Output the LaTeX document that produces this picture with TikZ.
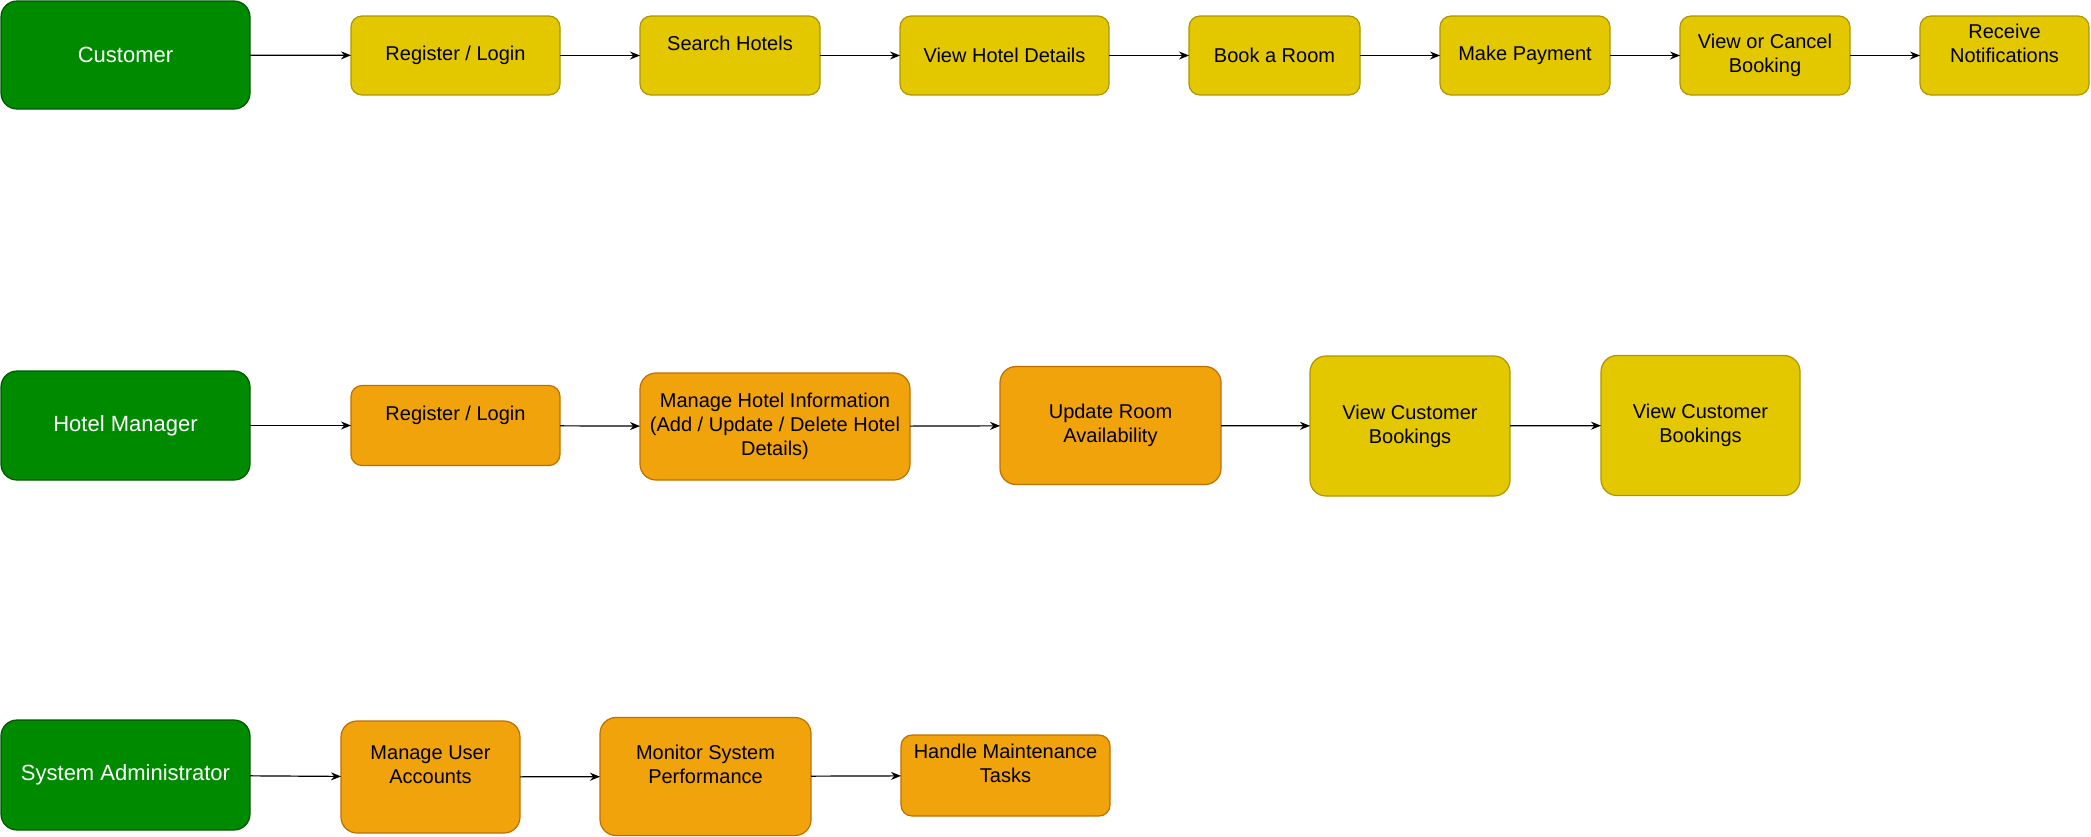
\documentclass[tikz,border=0pt]{standalone}
\usepackage{fontspec}
\setmainfont{Liberation Sans}
\usetikzlibrary{arrows.meta}
\definecolor{gfill}{HTML}{008A00}
\definecolor{gline}{HTML}{005700}
\definecolor{yfill}{HTML}{E3C800}
\definecolor{yline}{HTML}{B09500}
\definecolor{ofill}{HTML}{F0A30A}
\definecolor{oline}{HTML}{BD7000}
\tikzset{
  base/.style={rounded corners=5.5pt, line width=0.6pt, align=center, inner sep=0pt, outer sep=0pt, font=\fontsize{10}{12}\selectfont, text=black},
  tall/.style={rounded corners=8pt},
  actor/.style={base, tall, fill=gfill, draw=gline, text=white, font=\fontsize{11}{13}\selectfont},
  ybox/.style={base, fill=yfill, draw=yline},
  obox/.style={base, fill=ofill, draw=oline},
  sz/.style 2 args={minimum width=#1*0.5pt, minimum height=#2*0.5pt},
  flow/.style={-{Stealth[length=5pt,width=4pt]}, line width=0.6pt, black},
}
\begin{document}
\begin{tikzpicture}[x=0.5pt, y=-0.5pt]
\useasboundingbox (0,0) rectangle (2091,836);
% Row 1: Customer
\node[actor, sz={249}{108}] (c)   at (125.5,55)  {Customer};
\node[ybox, sz={209}{79}]  (c1)  at (455.5,55.5) {Register / Login};
\node[ybox, sz={180}{79}]  (c2)  at (730,55.5)   {Search Hotels\\\mbox{}};
\node[ybox, sz={209}{79}]  (c3)  at (1004.5,55.5) {View Hotel Details};
\node[ybox, sz={171}{79}]  (c4)  at (1274.5,55.5) {Book a Room};
\node[ybox, sz={170}{79}]  (c5)  at (1525,55.5)  {Make Payment};
\node[ybox, sz={170}{79}]  (c6)  at (1765,55.5)  {View or Cancel\\Booking};
\node[ybox, sz={169}{79}]  (c7)  at (2004.5,55.5) {Receive\\Notifications\\\mbox{}};
\draw[flow] (c) -- (c1);
\draw[flow] (c1) -- (c2);
\draw[flow] (c2) -- (c3);
\draw[flow] (c3) -- (c4);
\draw[flow] (c4) -- (c5);
\draw[flow] (c5) -- (c6);
\draw[flow] (c6) -- (c7);
% Row 2: Hotel Manager
\node[actor, sz={249}{109}] (h)  at (125.5,425.5) {Hotel Manager};
\node[obox, sz={209}{80}]  (h1) at (455.5,425.5) {Register / Login\\\mbox{}};
\node[obox, tall, sz={270}{107}] (h2) at (775,426.5) {Manage Hotel Information\\(Add / Update / Delete Hotel\\Details)};
\node[obox, tall, sz={221}{118}] (h3) at (1110.5,425.5) {Update Room\\Availability};
\node[ybox, tall, sz={200}{140}] (h4) at (1410,426) {View Customer\\Bookings};
\node[ybox, tall, sz={199}{140}] (h5) at (1700.5,425.5) {View Customer\\Bookings};
\draw[flow] (h) -- (h1);
\draw[flow] (h1) -- (h2);
\draw[flow] (h2) -- (h3);
\draw[flow] (h3) -- (h4);
\draw[flow] (h4) -- (h5);
% Row 3: System Administrator
\node[actor, sz={249}{110}] (s)  at (125.5,775) {System Administrator};
\node[obox, tall, sz={179}{112}] (s1) at (430.5,777) {Manage User\\Accounts\\\mbox{}};
\node[obox, tall, sz={211}{118}] (s2) at (705.5,776.5) {Monitor System\\Performance\\\mbox{}};
\node[obox, sz={209}{81}]  (s3) at (1005.5,775.5) {Handle Maintenance\\Tasks\\\mbox{}};
\draw[flow] (s) -- (s1);
\draw[flow] (s1) -- (s2);
\draw[flow] (s2) -- (s3);
\end{tikzpicture}
\end{document}
